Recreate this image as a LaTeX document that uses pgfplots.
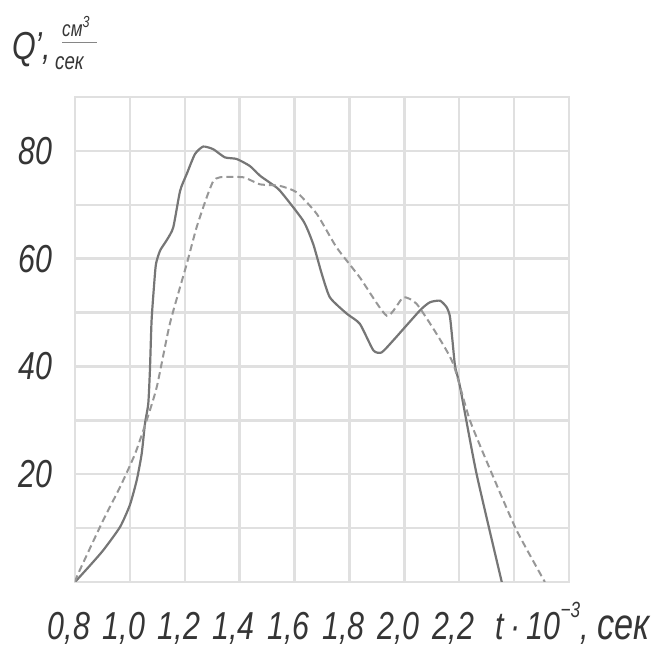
\documentclass[border=0pt]{standalone}
\usepackage{fontspec}
\setmainfont{Liberation Sans}[FakeStretch=0.78]
\usepackage{pgfplots}
\pgfplotsset{compat=1.18}
\definecolor{gridc}{HTML}{E0E0E0}
\definecolor{labc}{HTML}{353535}
\definecolor{solidc}{HTML}{767676}
\definecolor{dashc}{HTML}{979797}
\begin{document}
\begin{tikzpicture}
\begin{axis}[
  scale only axis, width=494pt, height=485pt,
  xmin=0.8, xmax=2.6, ymin=0, ymax=90,
  xtick={0.8,1,1.2,1.4,1.6,1.8,2,2.2,2.4,2.6},
  xticklabels={{0,8},{1,0},{1,2},{1,4},{1,6},{1,8},{2,0},{2,2},{},{}},
  ytick={0,10,20,30,40,50,60,70,80,90},
  yticklabels={{},{},20,{},40,{},60,{},80,{}},
  grid=major,
  major grid style={draw=gridc, line width=2.5pt},
  axis line style={draw=gridc, line width=2.5pt},
  major tick length=0pt,
  /pgf/number format/assume math mode=true,
  tick label style={font=\itshape\fontsize{39}{39}\selectfont, text=labc},
  xticklabel style={anchor=north, inner sep=0pt, yshift=-30pt, xshift=-6pt},
  yticklabel style={anchor=east, inner sep=0pt, xshift=-22pt},
]
\addplot[solidc, line width=2.2pt, smooth, tension=0.35] coordinates {
(0.8,0) (0.85,2.8) (0.903,5.9) (0.964,10.2) (1.0,14.3) (1.025,18.9)
(1.043,23.8) (1.055,29.4) (1.067,33.1) (1.073,39.3) (1.079,48.5)
(1.088,55) (1.095,59) (1.110,61.5) (1.135,63.5) (1.158,65.8)
(1.183,72.6) (1.207,75.7) (1.237,79.4) (1.267,80.8) (1.304,80.3)
(1.346,78.8) (1.389,78.5) (1.437,77.2) (1.474,75.4) (1.510,74.1)
(1.547,72.6) (1.632,67.0) (1.668,62.7) (1.699,57.2) (1.729,52.8)
(1.790,49.8) (1.838,47.9) (1.887,43.0) (1.917,42.6) (1.959,44.8)
(2.057,50.4) (2.093,51.9) (2.130,52.2) (2.154,51.0) (2.166,49.3)
(2.175,45) (2.185,40) (2.203,36.2) (2.263,20.1) (2.355,0)
};
\addplot[dashc, line width=2pt, dash pattern=on 7pt off 4pt, smooth, tension=0.35] coordinates {
(0.8,0) (0.812,1.6) (0.903,11.5) (0.964,17.6) (1.019,23.8) (1.061,30)
(1.098,36.2) (1.146,48) (1.207,59) (1.243,65.8) (1.280,71.4)
(1.304,74.4) (1.328,75.1) (1.413,75.1) (1.474,73.8) (1.547,73.5)
(1.608,72.3) (1.681,68.3) (1.753,62.1) (1.838,56.5) (1.936,49.4)
(1.996,52.8) (2.045,51.6) (2.118,46.0) (2.178,40.5) (2.239,30)
(2.324,19.5) (2.409,9.6) (2.512,0)
};
\end{axis}
% margins as in the reference
\path ([xshift=-75pt,yshift=-69pt]current axis.south west) rectangle ([xshift=93pt,yshift=97pt]current axis.north east);
% y-axis title
\node[anchor=base west, inner sep=0pt, text=labc, font=\itshape\fontsize{39}{39}\selectfont]
  at ([xshift=-63pt,yshift=37pt]current axis.north west) {Q',};
\node[anchor=base west, inner sep=0pt, text=labc, font=\itshape\fontsize{22}{22}\selectfont]
  at ([xshift=-13pt,yshift=60pt]current axis.north west) {см\raisebox{9pt}{\fontsize{16}{16}\selectfont 3}};
\draw[labc!60, line width=1pt] ([xshift=-13pt,yshift=54pt]current axis.north west) -- ++(35pt,0);
\node[anchor=base west, inner sep=0pt, text=labc, font=\itshape\fontsize{24}{24}\selectfont]
  at ([xshift=-20pt,yshift=27pt]current axis.north west) {сек};
% x-axis title
\node[anchor=base west, inner sep=0pt, text=labc, font=\itshape\fontsize{39}{39}\selectfont]
  at ([xshift=420pt,yshift=-58pt]current axis.south west)
  {t\,·\,10\raisebox{22pt}{\fontsize{22}{22}\selectfont −3}, {\fontsize{44}{44}\selectfont сек}};
\end{tikzpicture}
\end{document}
